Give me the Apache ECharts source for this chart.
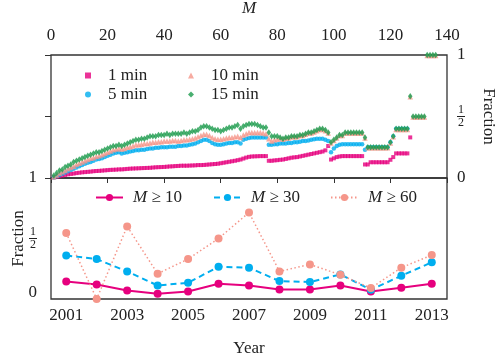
<!DOCTYPE html>
<html>
<head>
<meta charset="utf-8">
<script src="https://cdn.jsdelivr.net/npm/echarts@6/dist/echarts.min.js"></script>
<style>
html, body { margin: 0; padding: 0; background: #fff; }
#main { width: 498px; height: 356px; }
</style>
</head>
<body>
<div id="main"></div>
<script>
// top panel: fraction vs M (M = 1, 2, 3 ...)
var min1 = [0.005,0.01,0.015,0.02,0.025,0.03,0.033,0.036,0.04,0.043,
	0.046,0.048,0.05,0.052,0.055,0.057,0.058,0.06,0.062,0.064,
	0.066,0.067,0.068,0.07,0.07,0.072,0.074,0.076,0.077,0.078,
	0.079,0.08,0.081,0.082,0.083,0.085,0.087,0.088,0.089,0.09,
	0.092,0.094,0.095,0.097,0.098,0.1,0.1,0.1,0.101,0.102,
	0.103,0.105,0.105,0.106,0.108,0.11,0.112,0.114,0.116,0.12,
	0.124,0.128,0.132,0.136,0.14,0.145,0.15,0.158,0.166,0.172,
	0.175,0.176,0.177,0.178,0.178,0.178,0.14,0.14,0.143,0.145,
	0.148,0.15,0.155,0.16,0.165,0.168,0.17,0.175,0.18,0.185,
	0.19,0.195,0.2,0.205,0.21,0.215,0.225,0.26,0.15,0.16,
	0.17,0.175,0.178,0.178,0.178,0.178,0.178,0.178,0.178,0.178,
	0.11,0.11,0.128,0.128,0.128,0.128,0.128,0.128,0.128,0.148,
	0.17,0.2,0.2,0.2,0.2,0.2,0.33];
var min5 = [0.005,0.015,0.025,0.035,0.045,0.055,0.065,0.075,0.085,0.095,
	0.105,0.115,0.125,0.13,0.14,0.15,0.155,0.16,0.17,0.18,
	0.19,0.2,0.205,0.21,0.2,0.205,0.21,0.215,0.22,0.225,
	0.225,0.23,0.23,0.235,0.24,0.24,0.245,0.245,0.25,0.25,
	0.25,0.255,0.255,0.255,0.26,0.26,0.265,0.265,0.27,0.275,
	0.28,0.29,0.3,0.31,0.31,0.3,0.285,0.275,0.27,0.27,
	0.275,0.28,0.285,0.285,0.29,0.29,0.28,0.31,0.32,0.325,
	0.33,0.33,0.33,0.33,0.33,0.33,0.27,0.27,0.275,0.275,
	0.28,0.28,0.28,0.285,0.285,0.29,0.29,0.295,0.3,0.3,
	0.305,0.31,0.315,0.32,0.32,0.32,0.31,0.3,0.21,0.24,
	0.26,0.27,0.275,0.275,0.275,0.275,0.275,0.275,0.275,0.275,
	0.23,0.25,0.25,0.25,0.25,0.25,0.25,0.25,0.25,0.29,
	0.34,0.4,0.4,0.4,0.4,0.4];
var min10 = [0.01,0.025,0.04,0.05,0.06,0.075,0.085,0.095,0.11,0.12,
	0.13,0.14,0.15,0.16,0.165,0.175,0.18,0.19,0.2,0.21,
	0.22,0.23,0.235,0.24,0.235,0.24,0.25,0.255,0.26,0.27,
	0.27,0.275,0.28,0.28,0.285,0.29,0.29,0.295,0.295,0.3,
	0.3,0.3,0.305,0.305,0.3,0.305,0.31,0.31,0.315,0.32,
	0.325,0.335,0.345,0.355,0.355,0.345,0.33,0.32,0.315,0.315,
	0.32,0.325,0.33,0.33,0.335,0.34,0.33,0.35,0.36,0.37,
	0.37,0.37,0.37,0.37,0.365,0.36,0.32,0.3,0.31,0.315,
	0.325,0.315,0.325,0.325,0.335,0.335,0.335,0.345,0.345,0.355,
	0.365,0.365,0.375,0.385,0.395,0.395,0.385,0.365,0.285,0.305,
	0.325,0.345,0.345,0.365,0.365,0.365,0.365,0.365,0.365,0.365,
	0.325,0.245,0.245,0.245,0.245,0.245,0.245,0.245,0.245,0.285,
	0.335,0.395,0.395,0.395,0.395,0.395,0.66,0.495,0.495,0.495,
	0.495,0.495,0.995,0.995,0.995,0.995];
var min15 = [0.02,0.04,0.06,0.07,0.09,0.1,0.11,0.13,0.14,0.15,
	0.16,0.17,0.18,0.19,0.2,0.21,0.21,0.22,0.23,0.24,
	0.25,0.26,0.26,0.27,0.26,0.27,0.28,0.29,0.3,0.31,
	0.31,0.32,0.32,0.33,0.34,0.34,0.34,0.35,0.35,0.35,
	0.36,0.35,0.36,0.36,0.36,0.36,0.37,0.36,0.37,0.38,
	0.38,0.39,0.41,0.42,0.42,0.41,0.4,0.39,0.39,0.38,
	0.39,0.4,0.41,0.41,0.42,0.43,0.4,0.42,0.43,0.44,
	0.44,0.44,0.43,0.42,0.41,0.41,0.37,0.34,0.34,0.34,
	0.33,0.32,0.33,0.33,0.34,0.34,0.34,0.35,0.35,0.36,
	0.37,0.37,0.38,0.39,0.4,0.4,0.39,0.37,0.29,0.31,
	0.33,0.35,0.35,0.37,0.37,0.37,0.37,0.37,0.37,0.37,
	0.33,0.25,0.25,0.25,0.25,0.25,0.25,0.25,0.25,0.29,
	0.34,0.4,0.4,0.4,0.4,0.4,0.665,0.5,0.5,0.5,
	0.5,0.5,1,1,1,1];

// bottom panel
var years = ['2001','2002','2003','2004','2005','2006','2007','2008','2009','2010','2011','2012','2013'];
var ge10 = [0.145,0.12,0.07,0.043,0.062,0.126,0.112,0.079,0.079,0.112,0.062,0.093,0.126];
var ge30 = [0.36,0.33,0.228,0.112,0.134,0.267,0.259,0.148,0.14,0.203,0.076,0.192,0.303];
var ge60 = [0.546,0.0,0.6,0.209,0.33,0.5,0.715,0.228,0.286,0.2,0.09,0.259,0.363];

var FONT = 'Liberation Serif';
var TXT = '#222';
var C_PINK = '#e6007e', C_BLUE = '#00aeef', C_SALMON = '#f5968a', C_GREEN = '#1c9b4c';

function pairs(arr) {
	var out = [];
	for (var i = 0; i < arr.length; i++) out.push([i + 1, arr[i]]);
	return out;
}

var fracRich = {
	n: { fontFamily: FONT, fontSize: 12, lineHeight: 10, color: TXT, align: 'center' },
	b: { width: 8, height: 1, lineHeight: 3, fontSize: 1, backgroundColor: TXT, align: 'center' },
	d: { fontFamily: FONT, fontSize: 12, lineHeight: 10, color: TXT, align: 'center' },
	z: { fontFamily: FONT, fontSize: 17, color: TXT, padding: [0, 0, 12, 0] }
};

function fracLabel(v) {
	if (v === 0.5) return '{n|1}\n{b| }\n{d|2}';
	return String(v);
}

var chart = echarts.init(document.getElementById('main'));
var legText = { fontFamily: FONT, fontSize: 17, color: TXT,
	rich: { t: { fontFamily: FONT, fontSize: 17, color: TXT, padding: [0, 0, 0, 12] } } };
var legText2 = { fontFamily: FONT, fontSize: 17, color: TXT,
	rich: {
		i: { fontFamily: FONT, fontSize: 17, fontStyle: 'italic', color: TXT, padding: [0, 0, 0, 5] },
		r: { fontFamily: FONT, fontSize: 17, color: TXT }
	} };
function geFmt(name) { return '{i|M}{r| ' + name.replace('M ', '') + '}'; }

chart.setOption({
	animation: false,
	textStyle: { fontFamily: FONT, color: TXT },
	grid: [
		{ left: 51, top: 55, width: 396, height: 123, outerBoundsMode: 'none', containLabel: false,
			show: true, borderColor: '#333', borderWidth: 1.3, backgroundColor: 'transparent' },
		{ left: 51, top: 178, width: 396, height: 121, outerBoundsMode: 'none', containLabel: false,
			show: true, borderColor: '#333', borderWidth: 1.3, backgroundColor: 'transparent' }
	],
	legend: [
		{ data: ['1 min', '5 min'], orient: 'vertical', left: 80, top: 62, itemWidth: 6, itemHeight: 6, itemGap: 2,
			formatter: function (n) { return '{t|' + n + '}'; }, textStyle: legText },
		{ data: ['10 min', '15 min'], orient: 'vertical', left: 183, top: 62, itemWidth: 6, itemHeight: 6, itemGap: 2,
			formatter: function (n) { return '{t|' + n + '}'; }, textStyle: legText },
		{ data: ['M ≥ 10'], left: 90, top: 184, itemWidth: 27, itemHeight: 9, formatter: geFmt, textStyle: legText2 },
		{ data: ['M ≥ 30'], left: 208, top: 184, itemWidth: 27, itemHeight: 9, formatter: geFmt, textStyle: legText2 },
		{ data: ['M ≥ 60'], left: 325, top: 184, itemWidth: 27, itemHeight: 9, formatter: geFmt, textStyle: legText2 }
	],
	xAxis: [
		{
			gridIndex: 0, type: 'value', position: 'top', min: 0, max: 140, interval: 20,
			name: 'M', nameLocation: 'middle', nameGap: 38,
			nameTextStyle: { fontFamily: FONT, fontSize: 17, fontStyle: 'italic', color: TXT },
			axisLine: { show: false },
			axisTick: { inside: true, length: 5, lineStyle: { color: '#333' } },
			axisLabel: { fontFamily: FONT, fontSize: 17, color: TXT, margin: 11 },
			splitLine: { show: false }
		},
		{
			gridIndex: 1, type: 'category', data: years, position: 'bottom', boundaryGap: true,
			name: 'Year', nameLocation: 'middle', nameGap: 41,
			nameTextStyle: { fontFamily: FONT, fontSize: 17, color: TXT },
			axisLine: { show: false },
			axisTick: { inside: true, length: 6, interval: 1, alignWithLabel: true, lineStyle: { color: '#333' } },
			axisLabel: { fontFamily: FONT, fontSize: 17, color: TXT, margin: 8, interval: 1 },
			splitLine: { show: false }
		}
	],
	yAxis: [
		{
			gridIndex: 0, type: 'value', position: 'right', min: 0, max: 1, interval: 0.5,
			name: 'Fraction', nameLocation: 'middle', nameGap: 33, nameRotate: -90,
			nameTextStyle: { fontFamily: FONT, fontSize: 17, color: TXT },
			axisLine: { show: false },
			axisTick: { inside: true, length: 6, lineStyle: { color: '#333' } },
			axisLabel: { fontFamily: FONT, fontSize: 17, color: TXT, margin: 10, formatter: fracLabel, rich: fracRich },
			splitLine: { show: false }
		},
		{
			gridIndex: 1, type: 'value', position: 'left', min: 0, max: 1, interval: 0.5,
			name: 'Fraction', nameLocation: 'middle', nameGap: 24, nameRotate: 90, nameMoveOverlap: false,
			nameTextStyle: { fontFamily: FONT, fontSize: 17, color: TXT },
			axisLine: { show: false },
			axisTick: { inside: true, length: 6, lineStyle: { color: '#333' } },
			axisLabel: { fontFamily: FONT, fontSize: 17, color: TXT, margin: 14, rich: fracRich,
				formatter: function (v) { return v === 0 ? '{z|0}' : fracLabel(v); } },
			splitLine: { show: false }
		}
	],
	series: [
		{ name: '1 min', type: 'scatter', xAxisIndex: 0, yAxisIndex: 0, data: pairs(min1),
			symbol: 'rect', symbolSize: 4, clip: false, itemStyle: { color: C_PINK } },
		{ name: '5 min', type: 'scatter', xAxisIndex: 0, yAxisIndex: 0, data: pairs(min5),
			symbol: 'circle', symbolSize: 4.5, clip: false, itemStyle: { color: C_BLUE } },
		{ name: '10 min', type: 'scatter', xAxisIndex: 0, yAxisIndex: 0, data: pairs(min10),
			symbol: 'triangle', symbolSize: 5.5, clip: false, itemStyle: { color: C_SALMON } },
		{ name: '15 min', type: 'scatter', xAxisIndex: 0, yAxisIndex: 0, data: pairs(min15),
			symbol: 'diamond', symbolSize: [4.5, 6.5], clip: false, itemStyle: { color: C_GREEN } },

		{ name: 'M ≥ 10', type: 'line', xAxisIndex: 1, yAxisIndex: 1, data: ge10, clip: false,
			symbol: 'circle', symbolSize: 8, showAllSymbol: true,
			lineStyle: { color: C_PINK, width: 2 }, itemStyle: { color: C_PINK } },
		{ name: 'M ≥ 30', type: 'line', xAxisIndex: 1, yAxisIndex: 1, data: ge30, clip: false,
			symbol: 'circle', symbolSize: 8, showAllSymbol: true,
			lineStyle: { color: C_BLUE, width: 2, type: [6, 4] }, itemStyle: { color: C_BLUE } },
		{ name: 'M ≥ 60', type: 'line', xAxisIndex: 1, yAxisIndex: 1, data: ge60, clip: false,
			symbol: 'circle', symbolSize: 8, showAllSymbol: true,
			lineStyle: { color: C_SALMON, width: 1.5, type: [1.5, 2.5] }, itemStyle: { color: C_SALMON } }
	]
});
</script>
</body>
</html>
